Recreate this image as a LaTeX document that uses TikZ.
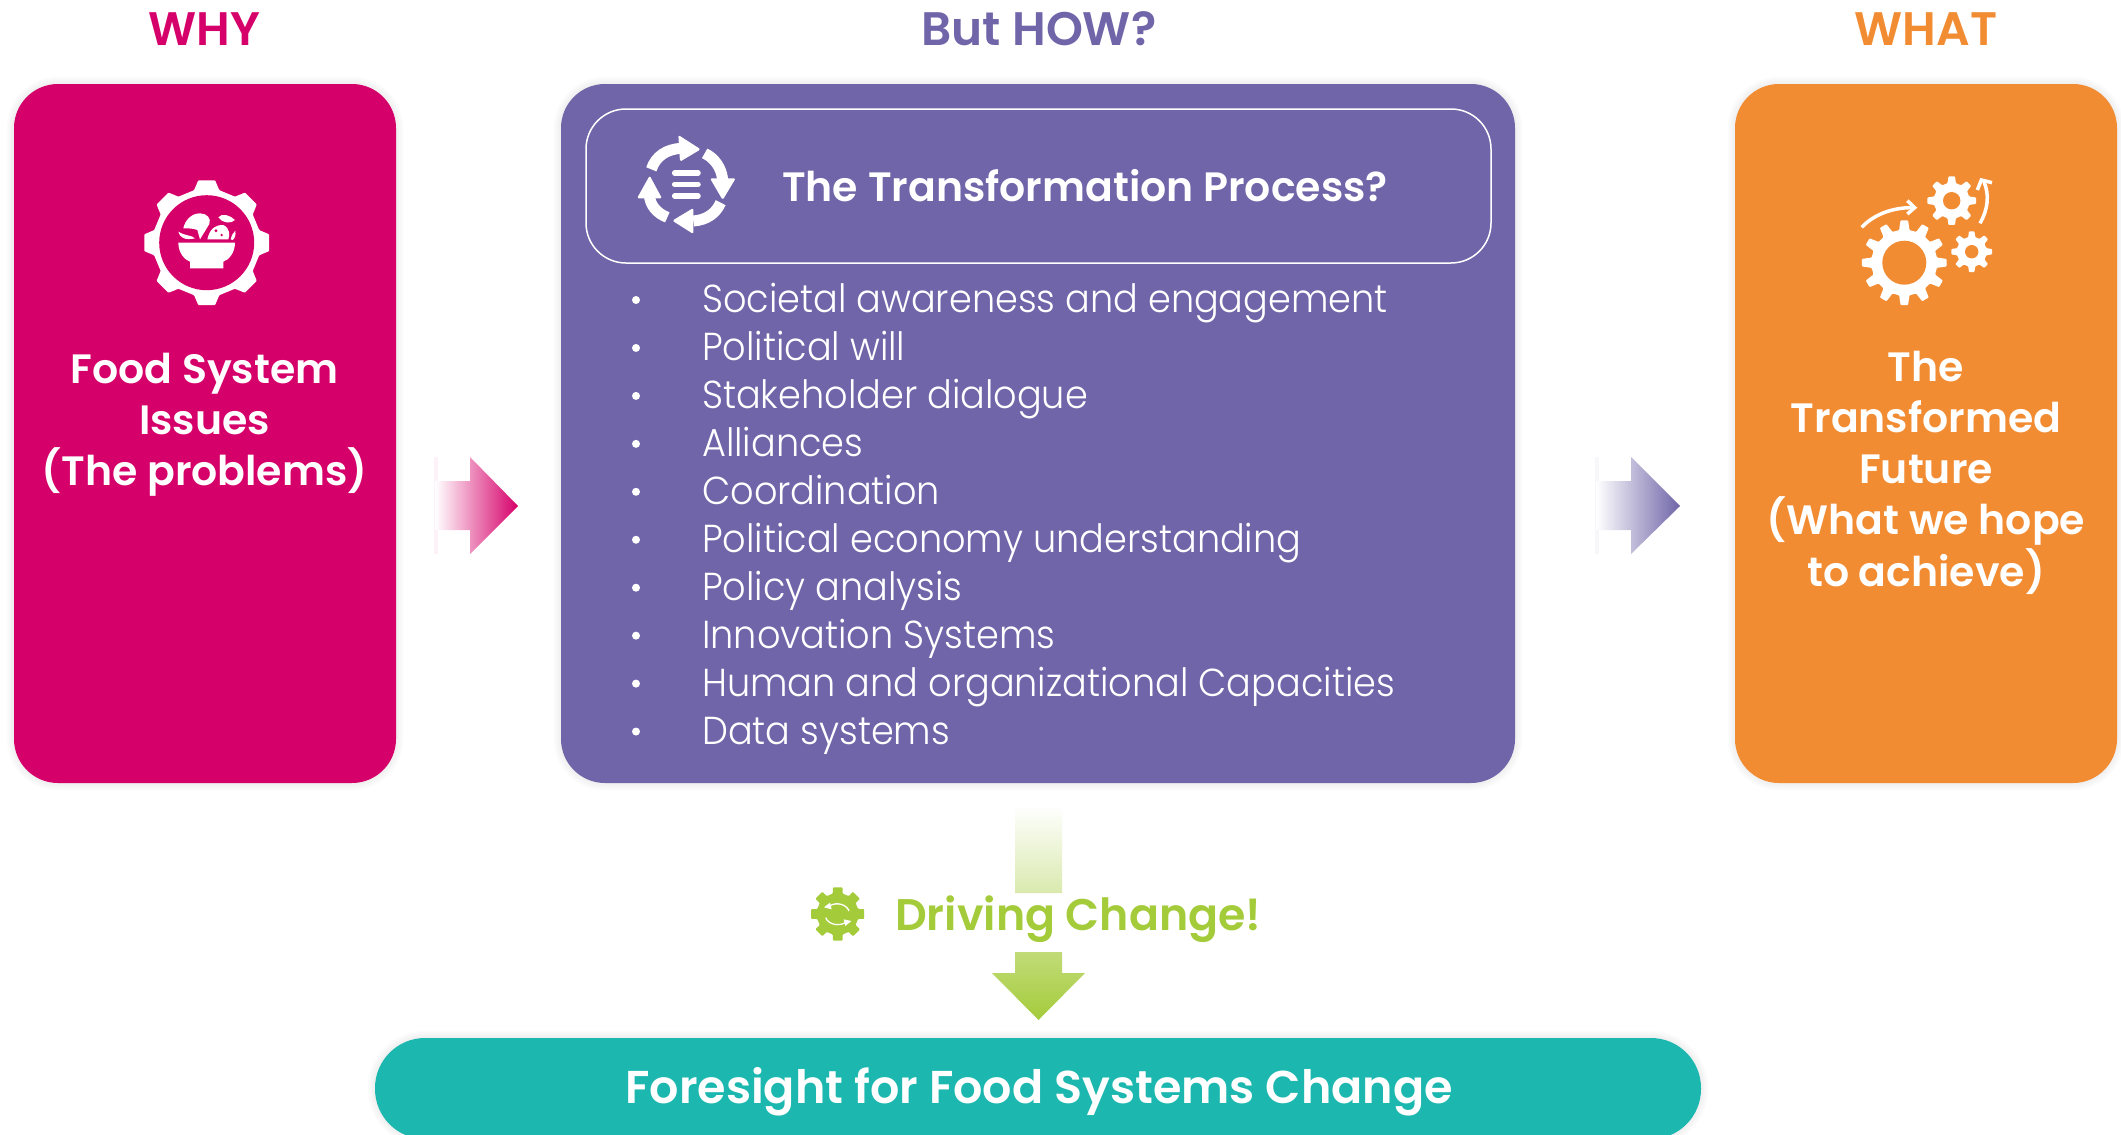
\documentclass[tikz,border=0pt]{standalone}
\usepackage{fontspec}
\setmainfont{Poppins}[BoldFont={Poppins SemiBold}]
\newfontfamily\listfont{Poppins Light}[FakeStretch=0.94]
\definecolor{cpink}{HTML}{D6006A}
\definecolor{cpurple}{HTML}{6F65A8}
\definecolor{corange}{HTML}{F28C33}
\definecolor{cteal}{HTML}{1CB8B0}
\definecolor{cgreen}{HTML}{A4CB3A}
\def\gtopratio{0.17}
\newcommand{\gearfill}[8]{% cx cy rout rroot n hole colour holecolour
  \begin{scope}[shift={(#1,#2)}]
    \def\gn{#5}\pgfmathsetmacro{\gp}{360/\gn}
    \pgfmathsetmacro{\gw}{0.30*\gp}\pgfmathsetmacro{\gt}{\gtopratio*\gp}
    \fill[#7,rounded corners=0.8pt] (-\gw:#4)
      \foreach \gi in {1,...,\gn} {
        -- ({(\gi-1)*\gp-\gw}:#4) -- ({(\gi-1)*\gp-\gt}:#3) -- ({(\gi-1)*\gp+\gt}:#3) -- ({(\gi-1)*\gp+\gw}:#4)
      } -- cycle;
    \fill[#8] (0,0) circle[radius=#6];
  \end{scope}}
\newcommand{\softpanel}[6]{% colour x1 y1 x2 y2 radius
  \foreach \sw in {3,6,9,12,15}
    \draw[black,opacity=0.011,line width=\sw pt,rounded corners=#6 pt] (#2,#3) rectangle (#4,#5);
  \fill[#1,rounded corners=#6 pt] (#2,#3) rectangle (#4,#5);}
\tikzset{
  x=1pt,y=-1pt,
  head/.style={font=\fontsize{47}{47}\selectfont\bfseries,inner sep=0pt,anchor=base},
  paneltext/.style={font=\fontsize{41}{51.2}\selectfont\bfseries,text=white,align=center,inner sep=0pt,anchor=center},
  itemtext/.style={font=\fontsize{39}{39}\listfont,text=white,anchor=base west,inner sep=0pt},
  bulletdot/.style={circle,fill=white,minimum size=8pt,inner sep=0pt},
}
\begin{document}
\begin{tikzpicture}
\useasboundingbox (0,0) rectangle (2121,1135);
\clip (0,0) rectangle (2121,1135);
\fill[white] (0,0) rectangle (2121,1135);

% panels
\softpanel{cpink}{14}{84}{396}{783}{44}
\softpanel{cpurple}{561}{84}{1515}{783}{44}
\softpanel{corange}{1735}{84}{2117}{783}{44}
\draw[white,line width=1.5pt,rounded corners=40pt] (586,109) rectangle (1491,263);
\softpanel{cteal}{375}{1038}{1701}{1139}{50}

% headings
\node[head,text=cpink] (why) at (204.5,45) {WHY};
\node[head,text=cpurple] (how) at (1039,45) {But HOW?};
\node[head,text=corange] (what) at (1926,45) {WHAT};

% panel texts
\node[paneltext] (food) at (204.5,425) {Food System\\Issues\\(The problems)};
\node[paneltext] (future) at (1926,472.5) {The\\Transformed\\Future\\(What we hope\\to achieve)};
\node[font=\fontsize{41}{41}\selectfont\bfseries,text=white,inner sep=0pt,anchor=base] (proc) at (1085,201.7) {The Transformation Process?};

% list
\foreach \t [count=\c from 0] in {Societal awareness and engagement,Political will,Stakeholder dialogue,Alliances,Coordination,Political economy understanding,Policy analysis,Innovation Systems,Human and organizational Capacities,Data systems}{
  \node[itemtext] (item\c) at (702,{312.5+47.95*\c}) {\t};
  \node[bulletdot] (dot\c) at (636,{300+47.95*\c}) {};
}

% arrows
\fill[cpink,opacity=0.05] (434,457) rectangle (438,554);
\fill[cpurple,opacity=0.05] (1595,457) rectangle (1599,554);
\shade[left color=white,right color=cpink] (435,481) -- (470,481) -- (470,457) -- (518,506) -- (470,554) -- (470,530) -- (435,530) -- cycle;
\shade[left color=white,right color=cpurple] (1596,481) -- (1631,481) -- (1631,457) -- (1680,506) -- (1631,554) -- (1631,530) -- (1596,530) -- cycle;
\shade[top color=white,bottom color=cgreen] (1015,805) rectangle (1062,893)
  (1015,952) -- (1062,952) -- (1062,973) -- (1085,973) -- (1038.5,1020) -- (992,973) -- (1015,973) -- cycle;

% driving change
\node[font=\fontsize{44.3}{44.3}\selectfont\bfseries,text=cgreen,anchor=base west,inner sep=0pt] (drive) at (895,930) {Driving Change!};
\begingroup\def\gtopratio{0.235}
\gearfill{837.7}{914}{27}{21}{8}{14}{cgreen}{cgreen}
\endgroup
\begin{scope}[shift={(780,790)},scale=1/3]
  \draw[white,line width=1.3pt] (207,363) .. controls (200,343) and (170,335) .. (150,347);
  \draw[white,line width=1.3pt] (137,383) .. controls (145,403) and (175,410) .. (196,398);
  \fill[white] (132,352) -- (150,338) -- (155,358) -- cycle;
  \fill[white] (214,393) -- (196,408) -- (191,388) -- cycle;
\end{scope}

% foresight
\node[font=\fontsize{46}{46}\selectfont\bfseries,text=white,inner sep=0pt,anchor=base] (fore) at (1039,1103) {Foresight for Food Systems Change};

% food icon
\gearfill{206.7}{242.7}{63}{54}{8}{47.5}{white}{cpink}
\begin{scope}[shift={(120,160)},scale=1/3]
  \fill[white] (175,248) -- (345,248) .. controls (345,280) and (325,300) .. (310,305) -- (310,325) -- (210,325) -- (210,305) .. controls (195,300) and (175,280) .. (175,248) -- cycle;
  \fill[white] (190,205) .. controls (195,180) and (215,160) .. (240,160) .. controls (260,160) and (275,175) .. (268,192) -- (240,238) -- (232,210) .. controls (220,205) and (205,205) .. (190,205) -- cycle;
  \fill[white] (175,215) .. controls (178,232) and (195,242) .. (225,235) .. controls (215,225) and (195,228) .. (175,215) -- cycle;
  \fill[white] (262,238) .. controls (270,205) and (285,195) .. (310,195) .. controls (330,205) and (330,225) .. (325,238) -- cycle;
  \fill[white] (295,172) .. controls (305,158) and (330,165) .. (345,180) .. controls (335,192) and (305,190) .. (295,172) -- cycle;
  \fill[white] (332,238) .. controls (335,225) and (340,218) .. (346,212) .. controls (348,225) and (345,235) .. (338,240) -- cycle;
  \fill[cpink] (288,212) circle[radius=5];
  \fill[cpink] (305,225) circle[radius=4];
\end{scope}

% cycle icon
\begin{scope}[shift={(610,120)},scale=1/3]
  \draw[white,line width=11pt] (124,148) .. controls (137,108) and (170,88) .. (212,85);
  \fill[white,rounded corners=1.5pt] (205,45) -- (272,88) -- (210,125) -- cycle;
  \draw[white,line width=11pt] (284,100) .. controls (315,115) and (335,145) .. (338,180);
  \fill[white,rounded corners=1.5pt] (300,175) -- (377,175) -- (338,240) -- cycle;
  \draw[white,line width=11pt] (332,248) .. controls (318,280) and (290,300) .. (250,303);
  \fill[white,rounded corners=1.5pt] (250,264) -- (187,302) -- (250,342) -- cycle;
  \draw[white,line width=11pt] (172,292) .. controls (140,280) and (120,255) .. (118,225);
  \fill[white,rounded corners=1.5pt] (119,167) -- (81,235) -- (156,235) -- cycle;
  \foreach \yy in {159,193,228} \draw[white,line width=5.5pt,line cap=round] (194,\yy) -- (264,\yy);
\end{scope}

% gears icon
\gearfill{1904.3}{262.7}{42.5}{33}{12}{22}{white}{corange}
\gearfill{1951.7}{200.7}{24.5}{18}{8}{8.7}{white}{corange}
\gearfill{1971.7}{251.7}{20.5}{15}{8}{6.7}{white}{corange}
\begin{scope}[shift={(1830,160)},scale=1/3]
  \draw[white,line width=3.5pt] (95,202) .. controls (130,165) and (185,142) .. (250,143);
  \draw[white,line width=3.5pt] (232,122) -- (254,143) -- (232,162);
  \draw[white,line width=3.5pt] (450,190) .. controls (475,145) and (478,105) .. (462,65);
  \draw[white,line width=3.5pt] (442,90) -- (454,60) -- (486,68);
\end{scope}
\end{tikzpicture}
\end{document}
